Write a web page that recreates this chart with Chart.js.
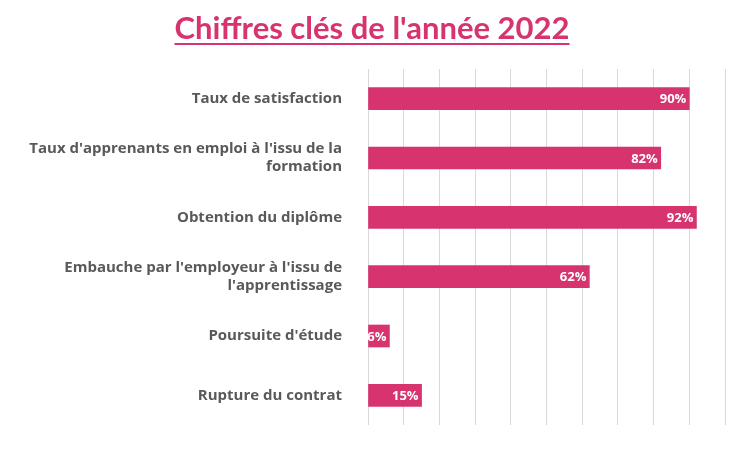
<!DOCTYPE html>
<html><head><meta charset="utf-8">
<script src="https://cdn.jsdelivr.net/npm/chart.js@4"></script>
<style>
body{margin:0;background:#fff;width:744px;height:452px;overflow:hidden;font-family:Lato,"Open Sans",sans-serif}
#t{position:absolute;left:0;top:8px;width:744px;text-align:center;color:#D6336F;font-weight:bold;font-size:31px;text-decoration:underline;text-decoration-thickness:2px;text-underline-offset:4px}
#w{position:absolute;left:0;top:0;width:744px;height:452px}
</style></head><body>
<div id="w"><canvas id="c"></canvas></div>
<div id="t">Chiffres clés de l'année 2022</div>
<script>
const categories=[["Taux de satisfaction"],["Taux d'apprenants en emploi à l'issu de la","formation"],["Obtention du diplôme"],["Embauche par l'employeur à l'issu de","l'apprentissage"],["Poursuite d'étude"],["Rupture du contrat"]];
const values=[90,82,92,62,6,15];
const lbl={id:'lbl',afterDatasetsDraw(ch){const ctx=ch.ctx;const m=ch.getDatasetMeta(0);ctx.save();ctx.fillStyle='#fff';ctx.font='bold 13px "Open Sans", sans-serif';ctx.textAlign='right';ctx.textBaseline='middle';
m.data.forEach((b,i)=>{ctx.fillText(values[i]+'%',b.x-3,b.y+1);});ctx.restore();}};
new Chart(document.getElementById('c'),{type:'bar',data:{labels:categories,datasets:[{data:values,backgroundColor:'#D6336F',barThickness:22}]},
options:{indexAxis:'y',responsive:true,maintainAspectRatio:false,animation:false,
layout:{padding:{top:69,bottom:6,right:19,left:0}},
plugins:{legend:{display:false},tooltip:{enabled:false}},
scales:{x:{min:0,max:100,ticks:{display:false,stepSize:10},grid:{color:'#D9D9D9',drawTicks:false},border:{display:false}},
y:{afterFit(s){s.width=368;},grid:{display:false},border:{display:false},ticks:{color:'#595959',font:{family:'Open Sans',weight:'bold',size:15},padding:18}}}},
plugins:[lbl]});
</script></body></html>
